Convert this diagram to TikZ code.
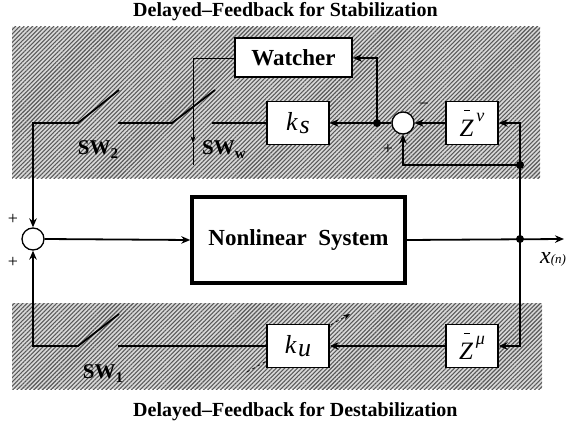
\documentclass[tikz,border=0pt]{standalone}
\usepackage{fontspec}
\setmainfont{Liberation Serif}
\usetikzlibrary{arrows.meta,patterns.meta}

\newcommand{\gainlabel}[1]{{\fontsize{26}{26}\selectfont\textit{k}\kern1.5pt\raisebox{-2.5pt}{\textit{#1}}}}
\newcommand{\delaylabel}[1]{{\fontsize{25}{25}\selectfont\textit{Z}}\kern-9.5pt\raisebox{25pt}{\rule{6pt}{1.2pt}}\kern6pt\raisebox{15pt}{\fontsize{18}{18}\selectfont\textit{#1}}}
\newcommand{\swlabel}[1]{{\fontsize{21}{21}\selectfont\bfseries SW\raisebox{-4pt}{\fontsize{15}{15}\selectfont #1}}}

\begin{document}
\begin{tikzpicture}[x=1pt,y=-1pt]
      \useasboundingbox (0,0) rectangle (571,428);

      \tikzstyle{block} = [
        rectangle,
        draw=black,
        line width=1.3pt,
        fill=white,
        inner sep=0pt,
        minimum width=62pt,
        minimum height=43pt
      ]
      \tikzstyle{delay} = [block, minimum width=52pt]
      \tikzstyle{sum} = [circle, draw=black, line width=1.3pt, fill=white, inner sep=0pt, minimum size=22pt]
      \tikzstyle{dot} = [circle, fill=black, inner sep=0pt, minimum size=8pt]
      \tikzstyle{wire} = [line width=1.8pt]
      \tikzstyle{arrow} = [wire,->,>={Stealth[length=9pt,width=7.5pt]}]
      \tikzstyle{thinarrow} = [line width=0.7pt,->,>={Stealth[length=7pt,width=5pt]}]
      \tikzstyle{hatch} = [preaction={fill=gray!30}, pattern={Lines[angle=45,distance=3pt,line width=1.1pt]}, pattern color=black!65]
      \tikzstyle{title} = [font=\fontsize{20}{22}\selectfont\bfseries, anchor=west, inner sep=0pt]
      \tikzstyle{sign} = [font=\fontsize{18}{18}\selectfont, inner sep=0pt]

      % shaded areas
      \path[hatch] (12,27) rectangle (540,178);
      \path[hatch] (12,303) rectangle (542,389);

      % titles
      \node[title] (titleStab) at (133,12) {Delayed–Feedback for Stabilization};
      \node[title] (titleDestab) at (133,412) {Delayed–Feedback for Destabilization};

      % upper loop
      \node[block, line width=2pt, minimum width=117pt, minimum height=39pt, font=\fontsize{23}{23}\selectfont\bfseries] (watcher) at (293.5,58) {Watcher};
      \node[block] (ksBox) at (298,123) {\gainlabel{s}};
      \node[sum] (sumTop) at (403,123) {};
      \node[dot] (dotTop) at (377,123) {};
      \node[delay] (zNu) at (472,123) {\delaylabel{ν}};
      \node[dot] (dotRight) at (520,165) {};

      % main path
      \node[sum] (sumIn) at (33,239) {};
      \node[block, line width=3.5pt, minimum width=213pt, minimum height=86pt, font=\fontsize{23}{23}\selectfont\bfseries] (system) at (298.5,240) {Nonlinear\ \ System};
      \node[dot] (dotOut) at (520,239) {};
      \coordinate (outEnd) at (564,239);
      \node (outLabel) at (553,259) {{\fontsize{24}{24}\selectfont\textit{x}}{\fontsize{13}{13}\selectfont\textit{(n)}}};

      % lower loop
      \coordinate (gainFrom) at (247,372);
      \coordinate (gainTo) at (350,314);
      \draw[thinarrow, dashed] (gainFrom) -- (gainTo);
      \node[block] (kuBox) at (298,346) {\gainlabel{u}};
      \node[delay] (zMu) at (472,346) {\delaylabel{μ}};

      % corners and switches
      \coordinate (cornerLT) at (33,123);
      \coordinate (cornerLB) at (33,346);
      \coordinate (cornerRT) at (520,123);
      \coordinate (cornerRB) at (520,346);
      \coordinate (sw2Pin) at (78,123);
      \coordinate (sw2Tip) at (119,90);
      \coordinate (sw2Out) at (118,123);
      \coordinate (swwPin) at (172,123);
      \coordinate (swwTip) at (215,90);
      \coordinate (swwOut) at (212,123);
      \coordinate (sw1Pin) at (78,346);
      \coordinate (sw1Tip) at (119,314);
      \coordinate (sw1Out) at (118,346);
      \coordinate (watchHead) at (193,143);
      \coordinate (watchTail) at (193,165);

      % forward
      \draw[arrow] (sumIn.east) -- (system.west);
      \draw[arrow] (system.east) -- (outEnd);

      % upper feedback
      \draw[arrow] (dotOut.center) -- (cornerRT) -- (zNu.east);
      \draw[arrow] (zNu.west) -- (sumTop.east);
      \draw[arrow] (dotRight.center) -| (sumTop.south);
      \draw[arrow] (sumTop.west) -- (ksBox.east);
      \draw[arrow] (dotTop.center) |- (watcher.east);
      \draw[wire] (ksBox.west) -- (swwOut);
      \draw[wire] (swwTip) -- (swwPin) -- (sw2Out);
      \draw[arrow] (sw2Tip) -- (sw2Pin) -- (cornerLT) -- (sumIn.north);
      \draw[thinarrow] (watcher.west) -| (watchHead);
      \draw[line width=0.7pt] (watchHead) -- (watchTail);

      % lower feedback
      \draw[arrow] (dotOut.center) -- (cornerRB) -- (zMu.east);
      \draw[arrow] (zMu.west) -- (kuBox.east);
      \draw[wire] (kuBox.west) -- (sw1Out);
      \draw[arrow] (sw1Tip) -- (sw1Pin) -- (cornerLB) -- (sumIn.south);

      % labels
      \node (sw2Label) at (98,150) {\swlabel{2}};
      \node (swwLabel) at (224,150) {\swlabel{w}};
      \node (sw1Label) at (103,374) {\swlabel{1}};
      \node[sign] (plusUpper) at (13,219) {+};
      \node[sign] (plusLower) at (13,262) {+};
      \node[sign] (minusTop) at (424,106) {−};
      \node[sign] (plusTop) at (388,149) {+};
    \end{tikzpicture}
\end{document}
